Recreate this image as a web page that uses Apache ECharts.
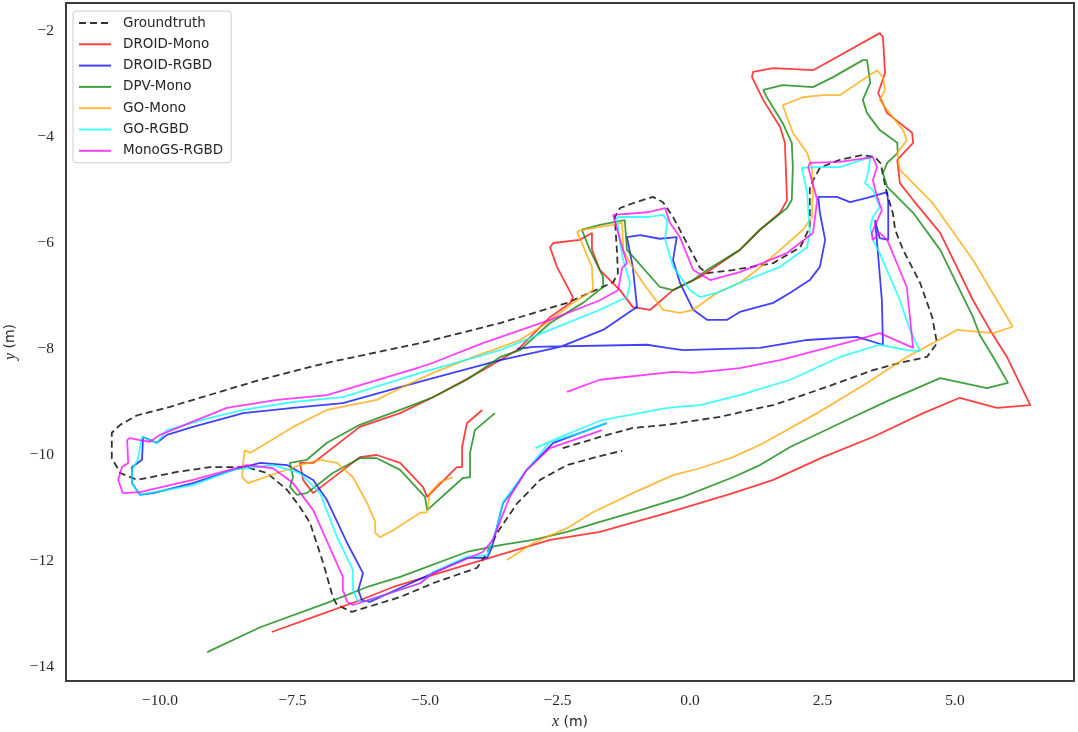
<!DOCTYPE html>
<html><head><meta charset="utf-8">
<script src="https://cdn.jsdelivr.net/npm/echarts@6/dist/echarts.min.js"></script>
<style>html,body{margin:0;padding:0;background:#fff}#c{width:1078px;height:732px}</style>
</head><body><div id="c"></div>
<script>
const xTicks = [-10, -7.5, -5, -2.5, 0, 2.5, 5];
const yTicks = [-14, -12, -10, -8, -6, -4, -2];
const seriesNames = ['Groundtruth', 'DROID-Mono', 'DROID-RGBD', 'DPV-Mono', 'GO-Mono', 'GO-RGBD', 'MonoGS-RGBD'];
const seriesColors = ['#000000', '#ff0000', '#0000ff', '#008000', '#ffa500', '#00ffff', '#ff00ff'];

const groundtruth = [[-2.40,-9.87],[-1.70,-9.66],[-1.08,-9.49],[-0.43,-9.43],[0.57,-9.28],[1.32,-9.11],[1.57,-9.06],[2.51,-8.74],[3.45,-8.40],[3.96,-8.26],[4.47,-8.15],[4.66,-7.89],[4.57,-7.40],[4.34,-6.75],[4.02,-6.13],[3.87,-5.75],[3.83,-5.45],[3.72,-5.08],[3.64,-4.72],[3.60,-4.50],[3.49,-4.38],[3.26,-4.34],[2.83,-4.43],[2.45,-4.58],[2.26,-4.94],[2.26,-5.70],[2.08,-6.08],[1.57,-6.38],[0.81,-6.51],[0.32,-6.57],[0.19,-6.47],[-0.06,-6.00],[-0.32,-5.51],[-0.51,-5.23],[-0.70,-5.13],[-1.08,-5.25],[-1.32,-5.34],[-1.42,-5.51],[-1.38,-6.13],[-1.36,-6.57],[-1.45,-6.74],[-2.32,-7.13],[-3.58,-7.51],[-5.09,-7.89],[-6.85,-8.26],[-8.11,-8.58],[-9.81,-9.09],[-10.43,-9.25],[-10.75,-9.43],[-10.91,-9.58],[-10.91,-10.06],[-10.75,-10.34],[-10.43,-10.47],[-9.68,-10.32],[-9.06,-10.23],[-8.36,-10.23],[-7.98,-10.34],[-7.60,-10.66],[-7.36,-10.98],[-7.17,-11.28],[-6.92,-12.04],[-6.74,-12.68],[-6.66,-12.83],[-6.38,-12.96],[-5.47,-12.68],[-4.85,-12.42],[-4.02,-12.13],[-3.83,-11.85],[-3.64,-11.47],[-3.26,-10.91],[-2.83,-10.47],[-2.32,-10.19],[-1.70,-10.02],[-1.28,-9.92]];

const droidMono = [[-7.89,-13.34],[-7.11,-13.06],[-6.23,-12.74],[-5.60,-12.49],[-4.85,-12.26],[-3.72,-11.92],[-2.64,-11.60],[-1.70,-11.45],[-0.43,-11.09],[0.81,-10.72],[1.57,-10.47],[2.51,-10.04],[3.45,-9.66],[4.40,-9.21],[5.09,-8.92],[5.79,-9.11],[6.42,-9.06],[5.98,-8.15],[5.66,-7.64],[5.34,-7.08],[4.72,-5.81],[4.21,-5.19],[3.96,-4.87],[3.91,-4.43],[4.21,-4.11],[4.19,-3.92],[3.72,-3.55],[3.55,-3.17],[3.68,-2.79],[3.64,-2.11],[3.58,-2.04],[2.58,-2.60],[2.32,-2.74],[1.57,-2.70],[1.19,-2.77],[1.17,-2.87],[1.38,-3.30],[1.70,-3.81],[1.79,-4.11],[1.83,-5.19],[1.70,-5.43],[1.32,-5.75],[0.94,-6.13],[0.19,-6.64],[-0.32,-6.89],[-0.75,-7.26],[-1.08,-7.21],[-1.32,-6.89],[-1.70,-6.51],[-1.85,-6.13],[-1.85,-5.81],[-2.08,-5.94],[-2.58,-6.00],[-2.64,-6.08],[-2.51,-6.45],[-2.21,-7.02],[-2.26,-7.13],[-2.64,-7.40],[-3.26,-8.02],[-3.91,-8.40],[-4.85,-8.91],[-5.47,-9.21],[-6.23,-9.47],[-7.11,-10.15],[-7.36,-10.15],[-7.30,-10.47],[-7.11,-10.72],[-6.23,-10.04],[-5.91,-10.00],[-5.47,-10.15],[-5.04,-10.60],[-4.96,-10.79],[-4.40,-10.23],[-4.30,-10.23],[-4.30,-9.85],[-4.21,-9.40],[-3.92,-9.15]];

const droidRgbd = [[-3.26,-8.00],[-2.96,-7.96],[-0.81,-7.92],[-0.43,-7.98],[-0.13,-8.02],[1.32,-7.98],[2.21,-7.83],[3.15,-7.77],[3.64,-7.92],[3.62,-7.08],[3.53,-6.00],[3.49,-5.57],[3.58,-5.91],[3.74,-5.94],[3.74,-5.25],[3.72,-5.04],[3.34,-5.15],[3.02,-5.23],[2.77,-5.13],[2.42,-5.13],[2.45,-5.43],[2.55,-5.94],[2.45,-6.45],[2.26,-6.70],[1.89,-6.94],[1.57,-7.13],[0.94,-7.30],[0.70,-7.45],[0.32,-7.45],[0.06,-7.26],[-0.19,-6.75],[-0.32,-6.32],[-0.25,-5.89],[-0.57,-5.92],[-0.94,-5.85],[-1.19,-5.89],[-1.08,-6.45],[-1.00,-7.21],[-1.08,-7.26],[-1.64,-7.64],[-2.45,-7.96],[-3.58,-8.21],[-4.85,-8.55],[-5.47,-8.72],[-6.55,-9.02],[-7.49,-9.11],[-8.43,-9.21],[-9.38,-9.47],[-9.87,-9.62],[-10.06,-9.77],[-10.32,-9.66],[-10.34,-10.09],[-10.53,-10.23],[-10.53,-10.53],[-10.38,-10.75],[-10.13,-10.72],[-9.38,-10.53],[-8.62,-10.28],[-8.11,-10.15],[-7.60,-10.19],[-7.11,-10.47],[-6.85,-10.85],[-6.47,-11.66],[-6.17,-12.23],[-6.26,-12.55],[-6.19,-12.74],[-6.04,-12.77],[-5.47,-12.51],[-4.85,-12.23],[-4.21,-11.94],[-3.83,-11.94],[-3.74,-11.75],[-3.53,-10.91],[-3.34,-10.66],[-3.08,-10.28],[-2.58,-9.77],[-1.57,-9.40]];

const dpvMono = [[-9.11,-13.72],[-8.11,-13.25],[-6.85,-12.79],[-6.09,-12.49],[-5.47,-12.30],[-4.21,-11.83],[-3.58,-11.70],[-2.96,-11.60],[-2.32,-11.45],[-1.70,-11.26],[-0.94,-11.04],[-0.13,-10.79],[0.81,-10.42],[1.32,-10.19],[1.89,-9.85],[2.83,-9.40],[3.77,-8.96],[4.72,-8.55],[5.34,-8.68],[5.60,-8.74],[6.00,-8.64],[5.72,-8.15],[5.47,-7.74],[5.34,-7.40],[4.72,-6.13],[4.21,-5.43],[3.72,-4.94],[3.64,-4.68],[3.72,-4.49],[3.92,-4.30],[3.91,-4.11],[3.58,-3.87],[3.34,-3.55],[3.26,-3.30],[3.40,-2.98],[3.34,-2.55],[3.26,-2.55],[2.70,-2.87],[2.32,-3.06],[1.75,-3.02],[1.38,-3.11],[1.45,-3.25],[1.75,-3.74],[1.92,-4.11],[1.94,-4.57],[1.92,-5.19],[1.83,-5.34],[1.32,-5.75],[0.94,-6.13],[0.32,-6.51],[0.06,-6.70],[-0.32,-6.89],[-0.57,-6.83],[-1.19,-6.13],[-1.23,-5.57],[-1.70,-5.66],[-2.04,-5.75],[-1.89,-6.13],[-1.64,-6.64],[-1.64,-6.83],[-2.02,-7.13],[-2.64,-7.51],[-3.21,-8.02],[-3.58,-8.15],[-4.21,-8.58],[-4.85,-8.91],[-5.47,-9.15],[-6.23,-9.43],[-6.85,-9.77],[-7.23,-10.09],[-7.55,-10.15],[-7.49,-10.42],[-7.55,-10.60],[-7.42,-10.75],[-7.23,-10.72],[-6.74,-10.34],[-6.23,-10.06],[-5.91,-10.06],[-5.47,-10.28],[-5.00,-10.79],[-4.96,-11.04],[-4.28,-10.43],[-4.15,-10.42],[-4.15,-9.96],[-4.06,-9.53],[-3.68,-9.21]];

const goMono = [[-3.45,-11.98],[-2.96,-11.66],[-2.32,-11.38],[-1.83,-11.08],[-1.08,-10.72],[-0.32,-10.38],[0.19,-10.25],[0.81,-10.04],[1.32,-9.81],[2.40,-9.21],[3.34,-8.64],[4.09,-8.15],[4.58,-7.89],[5.04,-7.64],[5.72,-7.70],[6.09,-7.58],[5.34,-6.32],[4.58,-5.25],[3.96,-4.62],[3.91,-4.30],[4.09,-4.06],[4.02,-3.87],[3.72,-3.49],[3.58,-3.30],[3.68,-3.11],[3.64,-2.87],[3.53,-2.74],[2.83,-3.21],[2.51,-3.21],[2.13,-3.25],[1.75,-3.40],[1.83,-3.62],[1.94,-3.92],[2.21,-4.30],[2.30,-4.57],[2.32,-4.94],[2.30,-5.51],[2.13,-5.75],[1.70,-6.13],[1.26,-6.51],[0.94,-6.75],[0.51,-6.94],[0.06,-7.26],[-0.19,-7.32],[-0.51,-7.26],[-0.89,-6.75],[-1.13,-6.38],[-1.26,-6.13],[-1.28,-5.62],[-1.45,-5.66],[-2.04,-5.75],[-2.13,-5.79],[-1.85,-6.45],[-1.83,-6.89],[-2.21,-7.13],[-2.70,-7.51],[-3.21,-7.83],[-3.72,-8.02],[-3.91,-8.08],[-4.85,-8.45],[-5.47,-8.74],[-5.91,-8.96],[-6.85,-9.15],[-7.49,-9.47],[-8.11,-9.85],[-8.30,-9.96],[-8.40,-9.91],[-8.43,-10.15],[-8.45,-10.42],[-8.34,-10.53],[-7.79,-10.34],[-7.36,-10.19],[-6.98,-10.09],[-6.66,-10.15],[-6.36,-10.42],[-6.09,-10.91],[-5.94,-11.26],[-5.94,-11.47],[-5.85,-11.55],[-5.60,-11.42],[-5.09,-11.09],[-4.96,-11.08],[-4.91,-10.72],[-4.72,-10.51],[-4.47,-10.42]];

const goRgbd = [[-2.92,-9.87],[-2.45,-9.66],[-1.66,-9.34],[-0.43,-9.11],[0.19,-9.06],[0.94,-8.87],[1.89,-8.58],[2.83,-8.15],[3.58,-7.92],[4.09,-8.02],[4.34,-8.04],[4.15,-7.64],[3.96,-7.08],[3.58,-6.19],[3.45,-5.94],[3.40,-5.70],[3.45,-5.51],[3.58,-5.32],[3.45,-5.00],[3.30,-4.87],[3.36,-4.68],[3.40,-4.38],[2.83,-4.57],[2.45,-4.57],[2.11,-4.58],[2.21,-5.06],[2.26,-5.81],[2.21,-6.08],[1.70,-6.45],[0.94,-6.75],[0.51,-6.94],[0.19,-7.02],[0.00,-6.89],[-0.32,-6.45],[-0.47,-5.94],[-0.43,-5.57],[-0.51,-5.47],[-0.81,-5.51],[-1.38,-5.51],[-1.32,-6.00],[-1.26,-6.32],[-1.13,-6.75],[-1.19,-7.02],[-1.70,-7.26],[-2.64,-7.64],[-3.58,-8.02],[-5.09,-8.45],[-6.55,-8.91],[-7.49,-9.00],[-8.43,-9.15],[-9.06,-9.30],[-9.87,-9.53],[-10.06,-9.77],[-10.34,-9.66],[-10.42,-10.09],[-10.53,-10.28],[-10.53,-10.53],[-10.38,-10.75],[-9.38,-10.57],[-8.62,-10.28],[-7.87,-10.19],[-7.36,-10.34],[-6.98,-10.72],[-6.66,-11.55],[-6.36,-12.17],[-6.36,-12.55],[-6.28,-12.74],[-6.17,-12.77],[-5.09,-12.42],[-4.85,-12.21],[-4.21,-11.92],[-3.83,-11.89],[-3.64,-11.36],[-3.53,-10.89],[-3.26,-10.53],[-3.08,-10.28],[-2.64,-9.75],[-2.02,-9.57],[-1.57,-9.40]];

const monoGsRgbd = [[-2.32,-8.81],[-1.70,-8.58],[-0.32,-8.43],[0.06,-8.45],[0.94,-8.36],[1.70,-8.21],[3.15,-7.83],[3.58,-7.70],[4.21,-7.98],[4.09,-6.83],[3.72,-5.94],[3.58,-5.81],[3.45,-5.94],[3.43,-5.81],[3.62,-5.38],[3.53,-5.13],[3.45,-4.81],[3.53,-4.57],[3.45,-4.38],[2.83,-4.47],[2.26,-4.49],[2.23,-4.57],[2.40,-5.19],[2.32,-5.81],[1.83,-6.19],[0.94,-6.55],[0.38,-6.70],[0.06,-6.51],[-0.19,-5.89],[-0.38,-5.62],[-0.47,-5.34],[-0.81,-5.42],[-1.45,-5.47],[-1.32,-5.94],[-1.19,-6.38],[-1.28,-6.47],[-1.36,-6.89],[-1.70,-7.08],[-2.64,-7.45],[-3.91,-7.89],[-4.85,-8.26],[-5.09,-8.34],[-6.85,-8.87],[-7.79,-8.96],[-8.74,-9.11],[-10.00,-9.62],[-10.19,-9.75],[-10.38,-9.72],[-10.57,-9.68],[-10.62,-9.72],[-10.60,-10.15],[-10.72,-10.23],[-10.79,-10.47],[-10.70,-10.72],[-10.38,-10.70],[-9.38,-10.47],[-8.36,-10.19],[-7.87,-10.25],[-7.49,-10.53],[-7.11,-11.04],[-6.55,-12.30],[-6.55,-12.55],[-6.47,-12.77],[-6.36,-12.83],[-5.09,-12.42],[-4.85,-12.23],[-3.91,-11.83],[-3.72,-11.60],[-3.40,-10.79],[-3.08,-10.28],[-2.64,-9.87],[-1.66,-9.53]];

const seriesData = [groundtruth, droidMono, droidRgbd, dpvMono, goMono, goRgbd, monoGsRgbd];

const fmt = (v, d) => (v < 0 ? '\u2212' : '') + Math.abs(v).toFixed(d);
const tickFont = {fontFamily: 'Liberation Serif', fontSize: 15.5, color: '#262626'};

const chart = echarts.init(document.getElementById('c'), null, {renderer: 'canvas'});
chart.setOption({
  animation: false,
  backgroundColor: '#ffffff',
  grid: {left: 66, top: 3, right: 4, bottom: 51, containLabel: false, outerBoundsMode: 'none',
    show: true, borderColor: '#3c3c3c', borderWidth: 2, backgroundColor: 'transparent'},
  xAxis: {
    type: 'value', min: -11.774, max: 7.245,
    axisLine: {show: false}, axisTick: {show: false}, splitLine: {show: false},
    axisLabel: Object.assign({customValues: xTicks, formatter: v => fmt(v, 1), margin: 12}, tickFont),
    name: '{i|x} (m)', nameLocation: 'middle', nameGap: 31,
    nameTextStyle: {fontFamily: 'DejaVu Sans', fontSize: 14, color: '#262626',
      rich: {i: {fontFamily: 'Liberation Serif', fontStyle: 'italic', fontSize: 16, color: '#262626'}}}
  },
  yAxis: {
    type: 'value', min: -14.264, max: -1.472,
    axisLine: {show: false}, axisTick: {show: false}, splitLine: {show: false},
    axisLabel: Object.assign({customValues: yTicks, formatter: v => fmt(v, 0), margin: 12}, tickFont),
    name: '{i|y} (m)', nameLocation: 'middle', nameGap: 46,
    nameTextStyle: {fontFamily: 'DejaVu Sans', fontSize: 14, color: '#262626',
      rich: {i: {fontFamily: 'Liberation Serif', fontStyle: 'italic', fontSize: 16, color: '#262626'}}}
  },
  legend: {
    orient: 'vertical', left: 73, top: 11,
    itemWidth: 32, itemHeight: 14, itemGap: 7.3,
    padding: [5, 8, 5, 5],
    itemStyle: {opacity: 0},
    backgroundColor: 'rgba(255,255,255,0.8)', borderColor: '#cccccc', borderWidth: 1, borderRadius: 3,
    textStyle: {fontFamily: 'DejaVu Sans', fontSize: 13.5, color: '#262626', padding: [0, 0, 0, 7]},
    data: seriesNames
  },
  series: seriesNames.map((name, i) => ({
    name: name, type: 'line', data: seriesData[i], symbol: 'none', showSymbol: false,
    clip: true, z: 2 + i,
    itemStyle: {color: seriesColors[i]},
    lineStyle: {color: seriesColors[i], width: 1.8, opacity: i === 0 ? 0.8 : 0.75, type: i === 0 ? [7, 4] : 'solid'}
  }))
});
</script></body></html>
